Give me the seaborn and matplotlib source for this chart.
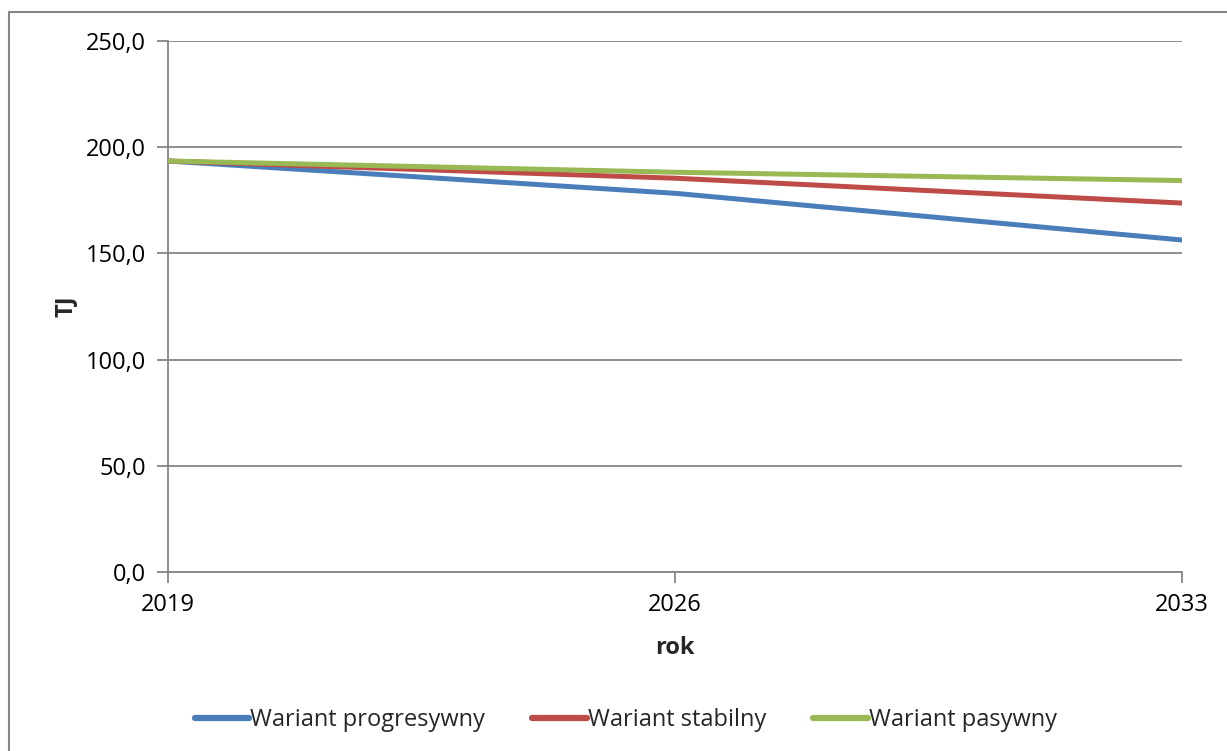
import pandas as pd
import matplotlib.pyplot as plt
import seaborn as sns
from matplotlib.patches import Rectangle

# Dane (TJ)
lata = [2019, 2026, 2033]
progresywny = [193.5, 178.3, 156.3]
stabilny = [193.5, 185.4, 173.7]
pasywny = [193.5, 188.2, 184.3]
warianty = ['Wariant progresywny', 'Wariant stabilny', 'Wariant pasywny']
kolory = ['#4A7EBB', '#BE4B48', '#98B954']

df = pd.DataFrame({
    'rok': lata * 3,
    'TJ': progresywny + stabilny + pasywny,
    'wariant': [w for w in warianty for _ in lata],
})

sns.set_theme(style="white")
plt.rcParams['font.family'] = ['Open Sans', 'DejaVu Sans']

fig = plt.figure(figsize=(12.27, 7.51), dpi=100)
ax = fig.add_axes([168 / 1227, 1 - 572 / 751, (1182 - 168) / 1227, (572 - 41) / 751])

# ramka wokół wykresu
fig.patches.append(Rectangle((9 / 1227, -0.1), 1.2, 1 - 12 / 751 + 0.1,
                             transform=fig.transFigure, fill=False,
                             edgecolor='#868686', linewidth=1.5, zorder=-1))

sns.lineplot(data=df, x='rok', y='TJ', hue='wariant', palette=kolory,
             linewidth=3.6, ax=ax, legend=False, zorder=3)

ax.set_xlim(2019, 2033)
ax.set_ylim(0, 250)
ax.set_xticks(lata)
ax.set_yticks([0, 50, 100, 150, 200, 250])
ax.set_yticklabels([f'{v:.1f}'.replace('.', ',') for v in [0, 50, 100, 150, 200, 250]])
ax.yaxis.grid(True, color='#868686', linewidth=1.3)
ax.xaxis.grid(False)

for s in ['top', 'right']:
    ax.spines[s].set_visible(False)
for s in ['left', 'bottom']:
    ax.spines[s].set_color('#868686')
    ax.spines[s].set_linewidth(1.3)

ax.tick_params(axis='both', which='major', labelsize=17, colors='#868686',
               labelcolor='black', length=8, width=1.3, direction='out',
               bottom=True, left=True)
ax.tick_params(axis='y', pad=8)
ax.tick_params(axis='x', pad=7)

ax.set_xlabel('rok', fontsize=17, fontweight='bold', labelpad=14)
ax.set_ylabel('TJ', fontsize=17, fontweight='bold', labelpad=6)

uchwyty = [plt.Line2D([0], [0], color=k, linewidth=4.5, solid_capstyle='round') for k in kolory]
fig.legend(uchwyty, warianty, loc='center', bbox_to_anchor=(0.5100, 0.041),
           ncol=3, frameon=False, fontsize=17, handlelength=2.3,
           handletextpad=0.05, columnspacing=2.0)

plt.savefig('out.png', dpi=100)
